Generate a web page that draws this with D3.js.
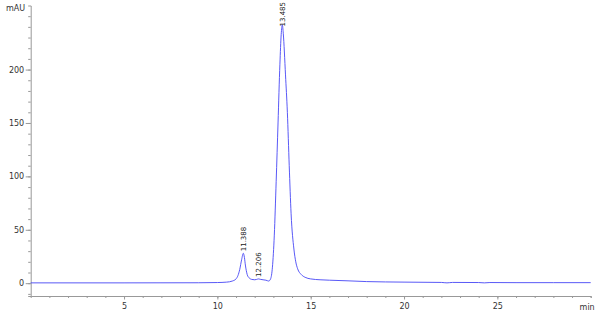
<!DOCTYPE html>
<html>
<head>
<meta charset="utf-8">
<script src="https://cdn.jsdelivr.net/npm/d3@7"></script>
<style>
    body { margin: 0; background: #fff; }
    .axis text { font-family: "DejaVu Sans", sans-serif; font-size: 8px; fill: #333; }
    .axis path, .axis line { stroke: #999; }
</style>
</head>
<body>
<div class="canvas"></div>
<script>
// chromatogram trace (min, mAU)
const times = [0, 5, 9, 10, 10.5, 10.8, 11.0, 11.1, 11.2, 11.3, 11.39, 11.45, 11.5, 11.6, 11.7, 11.85,
    12.0, 12.1, 12.2, 12.3, 12.45, 12.6, 12.75, 12.85, 12.95, 13.05, 13.15, 13.25, 13.35, 13.42, 13.48,
    13.53, 13.65, 13.75, 13.85, 13.95, 14.1, 14.2, 14.3, 14.5, 14.7, 15.0, 15.5, 16, 17, 18, 20, 22,
    22.3, 22.6, 24, 24.3, 24.6, 26, 28, 30];
const mAU = [0.3, 0.3, 0.4, 0.6, 1.0, 2.0, 4.0, 7, 13, 22, 28, 24, 17, 8, 5, 3.5,
    3.2, 3.5, 4.0, 3.6, 3.2, 2.8, 2.0, 4, 15, 45, 95, 150, 205, 233, 242,
    234, 195, 160, 110, 65, 32, 20, 13.5, 8, 5.5, 4, 3.2, 2.8, 2.2, 1.5, 1, 0.7,
    0.3, 0.7, 0.6, 0.3, 0.6, 0.5, 0.5, 0.5];

// peak labels
const peakTimes = [11.388, 12.206, 13.485];
const peakHeights = [28, 4, 242];
const peakLabels = ["11.388", "12.206", "13.485"];

// axis ticks
const xMajorTicks = [5, 10, 15, 20, 25];
const yMajorTicks = [0, 50, 100, 150, 200];

const width = 600;
const height = 317;

const svg = d3.select('.canvas')
    .append('svg')
    .attr('width', width)
    .attr('height', height);

const x = d3.scaleLinear()
    .domain([0, 30])
    .range([30.7, 590.7]);

const y = d3.scaleLinear()
    .domain([-12, 260])
    .range([296, 5.5]);

// minor ticks
const xMinor = d3.axisBottom(x)
    .tickValues(d3.range(1, 31))
    .tickSize(2)
    .tickFormat('');
svg.append('g')
    .attr('class', 'axis')
    .attr('transform', `translate(0, ${y(-12)})`)
    .call(xMinor);

const yMinor = d3.axisLeft(y)
    .tickValues(d3.range(-10, 260, 10))
    .tickSize(2.5)
    .tickFormat('');
svg.append('g')
    .attr('class', 'axis')
    .attr('transform', `translate(${x(0)}, 0)`)
    .call(yMinor);

// major ticks
const xAxis = d3.axisBottom(x)
    .tickValues(xMajorTicks)
    .tickSize(3.5)
    .tickPadding(4);
const xAxisGroup = svg.append('g')
    .attr('class', 'axis')
    .attr('transform', `translate(0, ${y(-12)})`)
    .call(xAxis);
xAxisGroup.select('.domain').remove();

const yAxis = d3.axisLeft(y)
    .tickValues(yMajorTicks)
    .tickSize(5)
    .tickPadding(1.5);
const yAxisGroup = svg.append('g')
    .attr('class', 'axis')
    .attr('transform', `translate(${x(0)}, 0)`)
    .call(yAxis);
yAxisGroup.select('.domain').remove();

// axis units
svg.append('text')
    .attr('x', 25)
    .attr('y', 10.5)
    .attr('text-anchor', 'end')
    .style('font-family', '"DejaVu Sans", sans-serif')
    .style('font-size', '8px')
    .attr('fill', '#333')
    .text('mAU');

svg.append('text')
    .attr('x', x(30) + 4)
    .attr('y', 309.5)
    .attr('text-anchor', 'end')
    .style('font-family', '"DejaVu Sans", sans-serif')
    .style('font-size', '8px')
    .attr('fill', '#333')
    .text('min');

// the trace
const line = d3.line()
    .x(i => x(times[i]))
    .y(i => y(mAU[i]))
    .curve(d3.curveMonotoneX);

svg.append('path')
    .attr('d', line(d3.range(times.length)))
    .attr('fill', 'none')
    .attr('stroke', '#4646f5')
    .attr('stroke-width', 0.9);

// peak retention time labels, kept inside the top edge
const labels = svg.selectAll('.peak-label')
    .data(peakTimes)
    .enter()
    .append('text')
    .attr('class', 'peak-label')
    .attr('dy', '0.35em')
    .style('font-family', '"DejaVu Sans", sans-serif')
    .style('font-size', '7px')
    .attr('fill', '#222')
    .text((d, i) => peakLabels[i]);

labels.attr('transform', function (d, i) {
    const len = this.getComputedTextLength();
    const ly = Math.max(y(peakHeights[i]) - 2, len + 2);
    return `translate(${x(d)}, ${ly}) rotate(-90)`;
});
</script>
</body>
</html>
